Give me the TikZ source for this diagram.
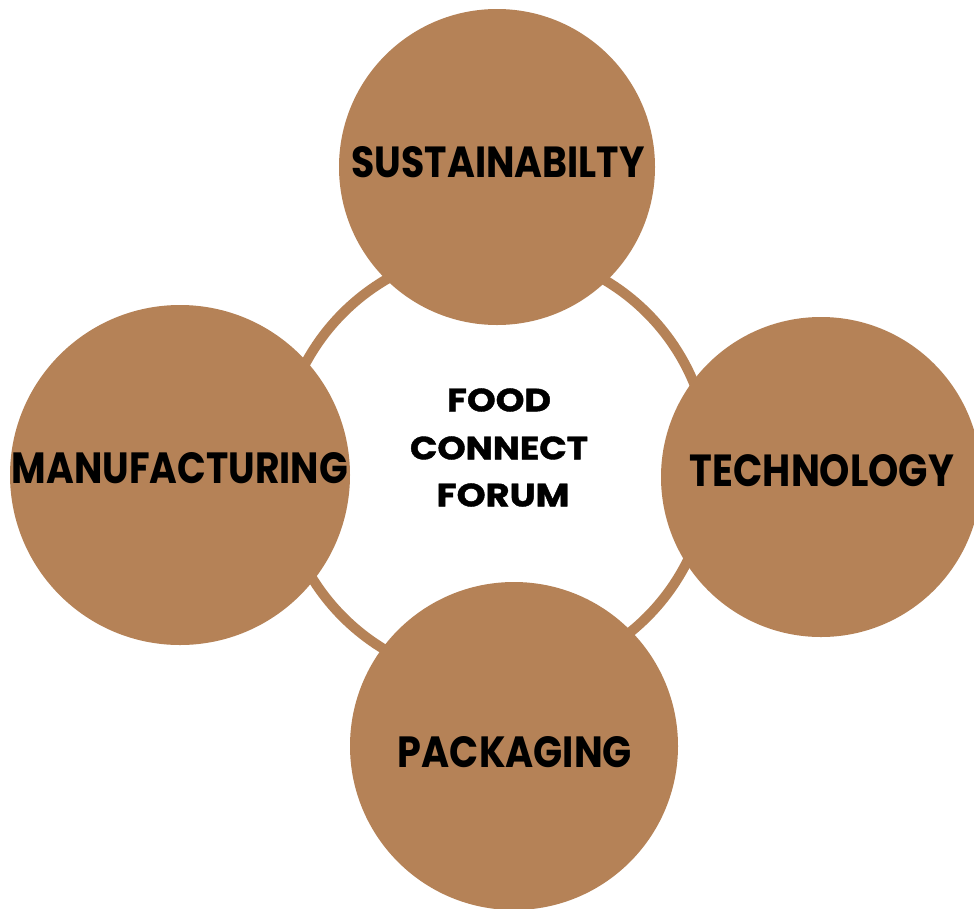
\documentclass[tikz,border=0pt]{standalone}
\usepackage{fontspec}
\usepackage{graphicx}
\setmainfont{Poppins}
\newfontfamily\heavyfont{Poppins}[UprightFont=* Bold, FakeBold=1.2]
\definecolor{bronze}{RGB}{181,130,87}
\tikzset{
  bub/.style={circle, fill=bronze, draw=none, inner sep=0pt},
  hubring/.style={circle, draw=bronze, line width=10pt, fill=white, inner sep=0pt},
  lbl/.style={inner sep=0pt, text=black, font=\bfseries},
  hublbl/.style={inner sep=0pt, text=black, font=\heavyfont}
}
\newcommand{\fit}[3]{\resizebox{#1pt}{#2pt}{#3}}
\begin{document}
\begin{tikzpicture}[x=1pt,y=-1pt]
\useasboundingbox[fill=white] (0,0) rectangle (974,908);
\node[hubring, minimum size=430pt] (hub) at (495,465) {};
\node[bub, minimum size=316pt] (sus) at (497,167) {};
\node[bub, minimum size=340pt] (man) at (180,475) {};
\node[bub, minimum size=320pt] (tec) at (821,477) {};
\node[bub, minimum size=328pt] (pac) at (514,746) {};
\node[lbl] (tsus) at (498,162) {\fit{293}{31}{SUSTAINABILTY}};
\node[lbl] (tman) at (180,468) {\fit{336}{31}{MANUFACTURING}};
\node[lbl] (ttec) at (822,471) {\fit{264}{32}{TECHNOLOGY}};
\node[lbl] (tpac) at (515,752) {\fit{234}{31}{PACKAGING}};
\node[hublbl] (food) at (499,400) {\fit{104}{23}{FOOD}};
\node[hublbl] (conn) at (499,448) {\fit{178}{23}{CONNECT}};
\node[hublbl] (foru) at (503,495) {\fit{133}{23}{FORUM}};
\end{tikzpicture}
\end{document}
